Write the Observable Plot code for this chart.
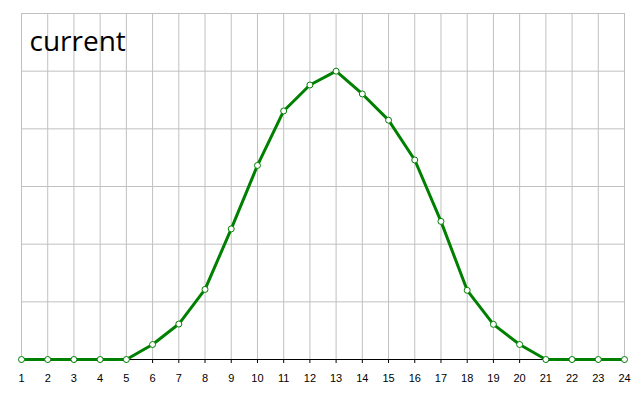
<!DOCTYPE html>
<html>
<head>
<meta charset="utf-8">
<script src="https://cdn.jsdelivr.net/npm/d3@7"></script>
<script src="https://cdn.jsdelivr.net/npm/@observablehq/plot@0.6"></script>
<style>
  html, body { margin: 0; padding: 0; background: #fff; }
  #chart svg { display: block; }
</style>
</head>
<body>
<div id="chart"></div>
<script>
const titleText = "current";
const hours = [1,2,3,4,5,6,7,8,9,10,11,12,13,14,15,16,17,18,19,20,21,22,23,24];
const values = [0,0,0,0,0,5.2,12.3,24.3,45.3,67.3,86.2,95.2,100,92.1,83,69.2,47.9,24,12.2,5.2,0,0,0,0];
const yTicks = [0,20,40,60,80,100,120];

const data = hours.map((h, i) => ({hour: h, value: values[i]}));

const chart = Plot.plot({
  width: 643,
  height: 401,
  marginLeft: 21,
  marginRight: 19,
  marginTop: 13,
  marginBottom: 42,
  style: {fontFamily: "Liberation Sans, Arial, sans-serif", fontSize: "11px", color: "#000", background: "#fff"},
  x: {domain: [1, 24]},
  y: {domain: [0, 120]},
  marks: [
    Plot.gridX(hours, {stroke: "#c0c0c0", strokeOpacity: 1}),
    Plot.gridY(yTicks, {stroke: "#c0c0c0", strokeOpacity: 1}),
    Plot.ruleY([0], {stroke: "#000", strokeWidth: 1}),
    Plot.axisX(hours, {tickSize: 4, tickPadding: 11, stroke: "#000", fill: "#000", fontSize: 11, label: null}),
    Plot.axisY({ticks: [], label: null, tickSize: 0}),
    Plot.line(data, {x: "hour", y: "value", stroke: "#008000", strokeWidth: 3}),
    Plot.dot(data, {x: "hour", y: "value", r: 3, fill: "#fff", stroke: "#008000", strokeWidth: 1}),
    Plot.text([titleText], {frameAnchor: "top-left", text: d => d, dx: 8, dy: 37, lineAnchor: "bottom", textAnchor: "start", fontSize: 28, fontFamily: "Open Sans, sans-serif", fill: "#000"})
  ]
});
document.getElementById("chart").appendChild(chart);
</script>
</body>
</html>
